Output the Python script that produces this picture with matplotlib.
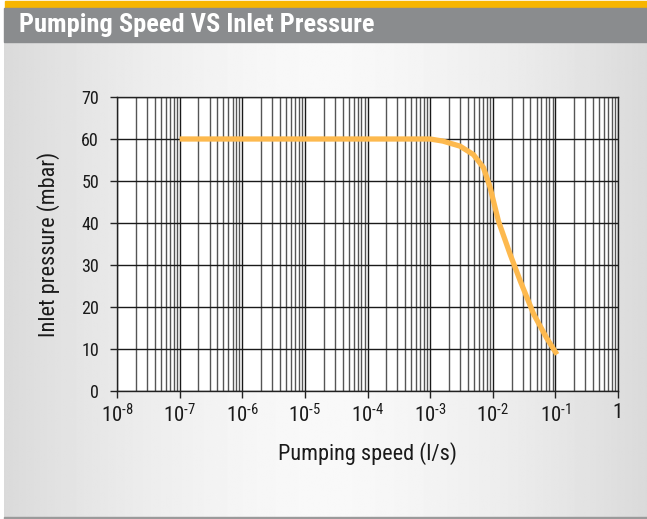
import numpy as np
import matplotlib
matplotlib.use("Agg")
import matplotlib.pyplot as plt
from matplotlib.ticker import LogLocator, FixedLocator, NullFormatter

FONT = ['Roboto Condensed', 'DejaVu Sans']
plt.rcParams['font.family'] = FONT
plt.rcParams['mathtext.fontset'] = 'custom'
plt.rcParams['mathtext.rm'] = 'Roboto Condensed'
plt.rcParams['mathtext.it'] = 'Roboto Condensed'

# Pumping speed (l/s) vs inlet pressure (mbar)
speed = [1e-7, 1e-6, 1e-5, 1e-4, 1e-3, 1.6e-3, 3.0e-3, 4.9e-3, 7.1e-3,
         9.1e-3, 1.23e-2, 1.9e-2, 2.75e-2, 4.5e-2, 7.2e-2, 1.06e-1]
pressure = [60, 60, 60, 60, 60, 59.5, 58.3, 56.3, 53.2,
            48.4, 40.5, 32.5, 26.2, 18.3, 12.7, 8.7]

x_ticks = [1e-8, 1e-7, 1e-6, 1e-5, 1e-4, 1e-3, 1e-2, 1e-1, 1]
x_tick_labels = [r'$\mathregular{10^{\text{-}8}}$', r'$\mathregular{10^{\text{-}7}}$',
                 r'$\mathregular{10^{\text{-}6}}$', r'$\mathregular{10^{\text{-}5}}$',
                 r'$\mathregular{10^{\text{-}4}}$', r'$\mathregular{10^{\text{-}3}}$',
                 r'$\mathregular{10^{\text{-}2}}$', r'$\mathregular{10^{\text{-}1}}$', '1']
y_ticks = [0, 10, 20, 30, 40, 50, 60, 70]

W, H = 647, 519
fig = plt.figure(figsize=(W / 100, H / 100), dpi=100)
fig.patch.set_facecolor('white')

# background panel with horizontal gray gradient
bg = fig.add_axes([4 / W, 2 / H, 1 - 4 / W, (H - 42 - 2) / H])
bg.set_axis_off()
xs = np.linspace(-1, 1, 400)
prof = 0.975 - 0.12 * np.abs(xs) ** 1.6
img = np.tile(prof, (10, 1))
bg.imshow(img, cmap='gray', vmin=0, vmax=1, aspect='auto',
          extent=[0, 1, 0, 1], interpolation='bilinear')
bg.set_xlim(0, 1)
bg.set_ylim(0, 1)

# header bars and bottom rule
fig.patches.append(plt.Rectangle((5 / W, (H - 8) / H), 1, 7 / H,
                                 transform=fig.transFigure, color='#F7B500', zorder=1))
fig.patches.append(plt.Rectangle((4 / W, (H - 42) / H), 1, 34 / H,
                                 transform=fig.transFigure, color='#8A8C8E', zorder=1))
fig.patches.append(plt.Rectangle((4 / W, 0), 1, 2.5 / H,
                                 transform=fig.transFigure, color='#9A9A9A', zorder=1))
fig.text(19 / W, (H - 25) / H, 'Pumping Speed VS Inlet Pressure', color='white',
         fontsize=19, fontweight='bold', va='center', ha='left', family=FONT)

ax = fig.add_axes([117 / W, (H - 391) / H, (618 - 117) / W, (391 - 97) / H])
ax.set_facecolor('white')
ax.set_xscale('log')
ax.set_xlim(1e-8, 1)
ax.set_ylim(0, 70)

ax.xaxis.set_major_locator(FixedLocator(x_ticks))
ax.set_xticklabels(x_tick_labels)
ax.xaxis.set_minor_locator(LogLocator(base=10, subs=np.arange(2, 10), numticks=100))
ax.xaxis.set_minor_formatter(NullFormatter())
ax.set_yticks(y_ticks)

ax.grid(True, which='major', axis='both', color='#1a1a1a', linewidth=1.0)
ax.grid(True, which='minor', axis='x', color='#555555', linewidth=1.0)
ax.set_axisbelow(True)

ax.tick_params(axis='x', which='major', direction='out', length=5, width=1,
               labelsize=15, pad=4, color='#222222', labelcolor='#1a1a1a')
ax.tick_params(axis='x', which='minor', length=0)
ax.tick_params(axis='y', which='major', direction='out', length=5, width=1,
               labelsize=13, pad=8, color='#222222', labelcolor='#1a1a1a')
for s in ax.spines.values():
    s.set_color('#222222')
    s.set_linewidth(1.0)

ax.plot(speed, pressure, color='#FDB94E', linewidth=3.8,
        solid_joinstyle='round', solid_capstyle='butt', zorder=3)

ax.set_xlabel('Pumping speed (l/s)', fontsize=16, labelpad=11, color='#1a1a1a')
ax.set_ylabel('Inlet pressure (mbar)', fontsize=16, labelpad=15, color='#1a1a1a')

fig.savefig('out.png', dpi=100)
